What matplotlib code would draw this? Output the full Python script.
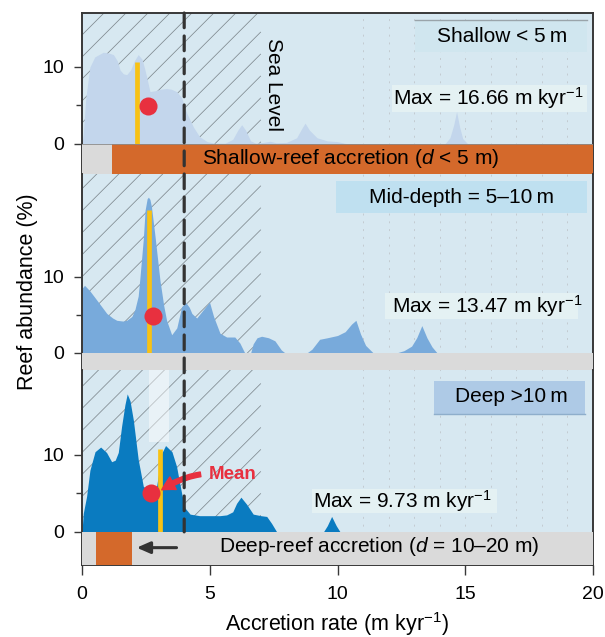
import numpy as np
import matplotlib
matplotlib.use("Agg")
import matplotlib.pyplot as plt
from matplotlib.patches import Rectangle, ConnectionPatch

plt.rcParams["font.family"] = ["Liberation Sans", "DejaVu Sans"]
plt.rcParams["mathtext.fontset"] = "custom"
plt.rcParams["mathtext.rm"] = "Liberation Sans"
plt.rcParams["mathtext.it"] = "Liberation Sans:italic"
plt.rcParams["mathtext.bf"] = "Liberation Sans:bold"

# ---------------- data ----------------
shallow_x = [0.0, 0.05, 0.15, 0.31, 0.5, 0.83, 1.05, 1.23, 1.38, 1.49, 1.62, 1.75, 1.9,
             2.05, 2.2, 2.35, 2.45, 2.53, 2.66, 2.85, 3.05, 3.31, 3.5, 3.7, 3.9, 4.1,
             4.36, 4.6, 4.9, 5.2, 5.6, 5.9, 6.1, 6.25, 6.4, 6.6, 6.8, 7.1, 7.36, 7.6,
             8.0, 8.4, 8.6, 8.73, 8.9, 9.2, 9.6, 10.0, 10.4, 14.2, 14.4, 14.55, 14.66,
             14.78, 14.9, 15.1, 20.0]
shallow_y = [0.0, 1.4, 6.0, 10.0, 11.3, 11.9, 11.8, 11.6, 10.8, 9.6, 9.1, 9.0, 9.6,
             10.8, 11.6, 11.0, 9.8, 8.7, 6.8, 6.9, 7.1, 7.2, 7.1, 6.8, 6.0, 4.0,
             2.2, 0.95, 0.3, 0.1, 0.1, 0.6, 1.8, 2.5, 1.8, 0.4, 0.1, 0.2, 0.35, 0.15,
             0.2, 0.8, 2.0, 2.7, 1.8, 0.8, 0.4, 0.3, 0.0, 0.0, 0.8, 2.5, 4.2,
             2.2, 0.7, 0.0, 0.0]

mid_x = [0.0, 0.1, 0.3, 0.57, 0.97, 1.2, 1.36, 1.6, 1.75, 1.95, 2.07, 2.2, 2.27, 2.4,
         2.47, 2.55, 2.6, 2.66, 2.72, 2.86, 3.05, 3.2, 3.31, 3.51, 3.71, 3.9, 4.07,
         4.2, 4.3, 4.49, 4.75, 4.99, 5.15, 5.4, 5.66, 5.98, 6.18, 6.37, 6.6, 6.7,
         6.85, 7.03, 7.3, 7.55, 7.8, 7.95, 8.8, 9.0, 9.3, 9.6, 10.0, 10.3, 10.55,
         10.72, 10.9, 11.1, 11.4, 12.3, 12.6, 12.9, 13.1, 13.3, 13.5, 13.7, 13.9, 20.0]
mid_y = [8.5, 8.9, 8.2, 7.0, 5.2, 4.6, 4.3, 4.2, 4.3, 4.8, 5.7, 7.5, 10.0, 15.0,
         18.8, 20.3, 20.5, 20.2, 19.2, 15.3, 9.6, 6.2, 4.3, 2.4, 3.3, 6.1, 6.6,
         6.0, 5.2, 4.6, 5.7, 6.7, 4.8, 2.6, 2.1, 2.1, 1.3, 0.0, 0.0, 1.2,
         2.0, 2.2, 2.0, 1.6, 0.4, 0.0, 0.0, 0.5, 1.8, 2.0, 2.3, 2.8, 3.8,
         4.3, 2.5, 1.0, 0.0, 0.0, 0.3, 0.9, 2.0, 3.6, 2.0, 0.8, 0.0, 0.0]

deep_x = [0.0, 0.05, 0.18, 0.31, 0.51, 0.73, 0.96, 1.16, 1.3, 1.42, 1.55, 1.68, 1.77,
          1.88, 2.01, 2.2, 2.4, 2.66, 2.92, 3.12, 3.27, 3.52, 3.7, 3.9, 4.03, 4.23,
          4.6, 5.0, 5.4, 5.66, 5.9, 6.05, 6.22, 6.44, 6.7, 7.0, 7.23, 7.42, 7.62,
          9.45, 9.6, 9.77, 9.95, 10.1, 20.0]
deep_y = [0.0, 2.4, 4.6, 8.0, 10.4, 11.0, 10.3, 9.1, 9.3, 10.3, 13.7, 16.5, 17.9,
          17.0, 14.5, 9.4, 5.9, 5.3, 5.9, 10.2, 11.2, 10.4, 8.5, 5.0, 3.1, 2.3,
          2.1, 2.1, 2.1, 2.2, 2.6, 3.7, 4.5, 3.6, 2.3, 2.1, 2.0, 1.1, 0.0,
          0.0, 0.8, 2.0, 0.8, 0.0, 0.0]

median_x = [2.17, 2.62, 3.05]
median_top = [10.7, 18.8, 10.7]
mean_x = [2.57, 2.79, 2.70]
mean_y = [4.9, 4.8, 5.1]
max_rates = [16.66, 13.47, 9.73]
zone_labels = ["Shallow < 5\u2009m", "Mid-depth = 5\u201310\u2009m", "Deep >10\u2009m"]
sea_level_rate = 4.0
shallow_accretion = (1.16, 20.0)
deep_accretion = (0.54, 1.97)
x_ticks = [0, 5, 10, 15, 20]

# ---------------- styling ----------------
BG = "#d7e8f1"
FILLS = ["#c3d6ec", "#78aadb", "#0a7bc0"]
ORANGE = "#d4692b"
GREY = "#dadada"
YELLOW = "#f8c214"
RED = "#e8303f"
FRAME = "#383838"
FS = 15

fig = plt.figure(figsize=(6.05, 6.37), dpi=100)
L, R, B, T = 82 / 605, 593 / 605, 1 - 565 / 637, 1 - 13 / 637
gs = fig.add_gridspec(3, 1, height_ratios=[161, 196, 195], hspace=0,
                      left=L, right=R, bottom=B, top=T)

# background layer: colour, hatched band, faint grid
bg = fig.add_axes([L, B, R - L, T - B], zorder=0)
bg.set_facecolor(BG)
bg.set_xticks([]); bg.set_yticks([])
for s in bg.spines.values():
    s.set_visible(False)
ytop_bg = 20 * (565 - 13) / (593 - 82)
bg.set_xlim(0, 20); bg.set_ylim(0, ytop_bg)
hatch_end = 7.0
for c in np.arange(-ytop_bg, hatch_end, 0.86):
    x0 = max(0.0, c); x1 = min(hatch_end, ytop_bg + c)
    if x1 > x0:
        bg.plot([x0, x1], [x0 - c, x1 - c], color="#7f898f", lw=0.55,
                solid_capstyle="butt")
for gx in range(11, 20):
    bg.axvline(gx, color="#c3cbd1", lw=0.7, ls=(0, (2, 6)))

ylims = [(-3.9, 17.0), (-2.24, 23.55), (-4.3, 21.0)]
series = [(shallow_x, shallow_y), (mid_x, mid_y), (deep_x, deep_y)]
axes = []
for i in range(3):
    ax = fig.add_subplot(gs[i], zorder=1)
    ax.set_facecolor("none")
    ax.set_xlim(0, 20)
    ax.set_ylim(*ylims[i])
    xs, ys = series[i]
    ax.fill_between(xs, ys, 0, color=FILLS[i], lw=0, zorder=2)
    ax.vlines(median_x[i], 0, median_top[i], color=YELLOW, lw=3.4, zorder=3)
    ax.plot(mean_x[i], mean_y[i], "o", ms=13, color=RED, mec="none", zorder=4)
    ax.set_yticks([0, 10])
    ax.set_yticks([5], minor=True)
    ax.tick_params(axis="y", which="major", direction="out", length=6, width=1,
                   labelsize=14, pad=7, color=FRAME)
    ax.tick_params(axis="y", which="minor", direction="out", length=4.5, width=1,
                   color=FRAME)
    for side in ("left", "right", "top", "bottom"):
        ax.spines[side].set_color(FRAME)
        ax.spines[side].set_linewidth(1.4)
    if i != 0:
        ax.spines["top"].set_visible(False)
    if i != 2:
        ax.spines["bottom"].set_visible(False)
        ax.tick_params(axis="x", which="both", bottom=False, labelbottom=False)
    axes.append(ax)

ax_s, ax_m, ax_d = axes

# ---- shallow panel ----
lo = ylims[0][0]
ax_s.barh(lo / 2, 20, height=-lo, left=0, color=GREY, zorder=5)
ax_s.barh(lo / 2, shallow_accretion[1] - shallow_accretion[0], height=-lo,
          left=shallow_accretion[0], color=ORANGE, zorder=5)
ax_s.axhline(0, color="#8a8a8a", lw=0.6, zorder=5)
ax_s.text(10.53, lo / 2, r"Shallow-reef accretion ($d$ < 5 m)", ha="center",
          va="center", fontsize=FS, zorder=6)
ax_s.add_patch(Rectangle((13.03, 11.95), 6.74, 4.15, fc="#d0e6ef", ec="none", zorder=2))
ax_s.plot([13.03, 19.77], [16.1, 16.1], color="#9aa4aa", lw=1.0, zorder=2)
ax_s.text(16.43, 14.0, zone_labels[0], ha="center", va="center", fontsize=FS, zorder=6)
ax_s.add_patch(Rectangle((12.13, 4.16), 7.64, 3.5, fc="#e4f1f3", ec="none", zorder=2))
ax_s.text(12.17, 5.9, rf"Max = {max_rates[0]:.2f} m kyr$^{{-1}}$", ha="left",
          va="center", fontsize=FS, zorder=6)
ax_s.text(7.48, 7.7, "Sea Level", rotation=-90, ha="center", va="center",
          fontsize=FS, zorder=6)

# ---- mid-depth panel ----
lo = ylims[1][0]
ax_m.barh(lo / 2, 20, height=-lo, left=0, color=GREY, zorder=5)
ax_m.add_patch(Rectangle((9.94, 18.4), 9.83, 4.2, fc="#bfe0f0", ec="none", zorder=2))
ax_m.text(14.86, 20.5, zone_labels[1], ha="center", va="center", fontsize=FS, zorder=6)
ax_m.add_patch(Rectangle((11.86, 4.47), 7.55, 3.43, fc="#e4f1f3", ec="none", zorder=2))
ax_m.text(12.12, 6.2, rf"Max = {max_rates[1]:.2f} m kyr$^{{-1}}$", ha="left",
          va="center", fontsize=FS, zorder=6)

# ---- deep panel ----
lo = ylims[2][0]
ax_d.barh(lo / 2, 20, height=-lo, left=0, color=GREY, zorder=5)
ax_d.barh(lo / 2, deep_accretion[1] - deep_accretion[0], height=-lo,
          left=deep_accretion[0], color=ORANGE, zorder=5)
ax_d.annotate("", xy=(2.14, lo / 2 + 0.1), xytext=(3.7, lo / 2 + 0.1),
              arrowprops=dict(arrowstyle="-|>,head_length=0.8,head_width=0.35",
                              color="#333333", lw=2.2, shrinkA=0, shrinkB=0),
              zorder=6)
ax_d.text(11.63, lo / 2 + 0.3, r"Deep-reef accretion ($d$ = 10–20 m)", ha="center",
          va="center", fontsize=FS, zorder=6)
ax_d.add_patch(Rectangle((2.63, 11.7), 0.79, 9.3, fc="white", alpha=0.45, ec="none",
                         zorder=2.5))
ax_d.add_patch(Rectangle((13.78, 15.3), 5.91, 4.3, fc="#aecae6", ec="none", zorder=2))
ax_d.plot([13.78, 19.69], [15.3, 15.3], color="#8eaecb", lw=1.0, zorder=2)
ax_d.text(16.8, 17.5, zone_labels[2], ha="center", va="center", fontsize=FS, zorder=6)
ax_d.add_patch(Rectangle((9.0, 2.5), 7.24, 3.1, fc="#e4f1f3", ec="none", zorder=2))
ax_d.text(9.05, 4.0, rf"Max = {max_rates[2]:.2f} m kyr$^{{-1}}$", ha="left",
          va="center", fontsize=FS, zorder=6)
ax_d.annotate("Mean", xy=(3.12, 5.45), xytext=(5.9, 7.4), ha="center", va="center",
              fontsize=13.5, fontweight="bold", color=RED, zorder=7,
              arrowprops=dict(arrowstyle="simple,head_length=0.7,head_width=0.75,tail_width=0.25",
                              color=RED, connectionstyle="arc3,rad=0.2",
                              shrinkA=4, shrinkB=0))
ax_d.set_xticks(x_ticks)
ax_d.tick_params(axis="x", direction="out", length=7, width=1, labelsize=14, pad=8,
                 color=FRAME)

# sea-level line running through all three panels
sea = ConnectionPatch(xyA=(sea_level_rate, ylims[0][1]), coordsA=ax_s.transData,
                      xyB=(sea_level_rate, 0), coordsB=ax_d.transData,
                      color="#333333", lw=2.3, linestyle=(0, (4.6, 2.6)),
                      shrinkA=0, shrinkB=0)
sea.set_zorder(10)
fig.add_artist(sea)

fig.text(28 / 605, 1 - 292 / 637, "Reef abundance (%)", rotation=90, ha="center",
         va="center", fontsize=15.5)
fig.text((L + R) / 2, 1 - 630.5 / 637, r"Accretion rate (m kyr$^{-1}$)", ha="center",
         va="baseline", fontsize=15.5)

fig.savefig("out.png", dpi=100)
